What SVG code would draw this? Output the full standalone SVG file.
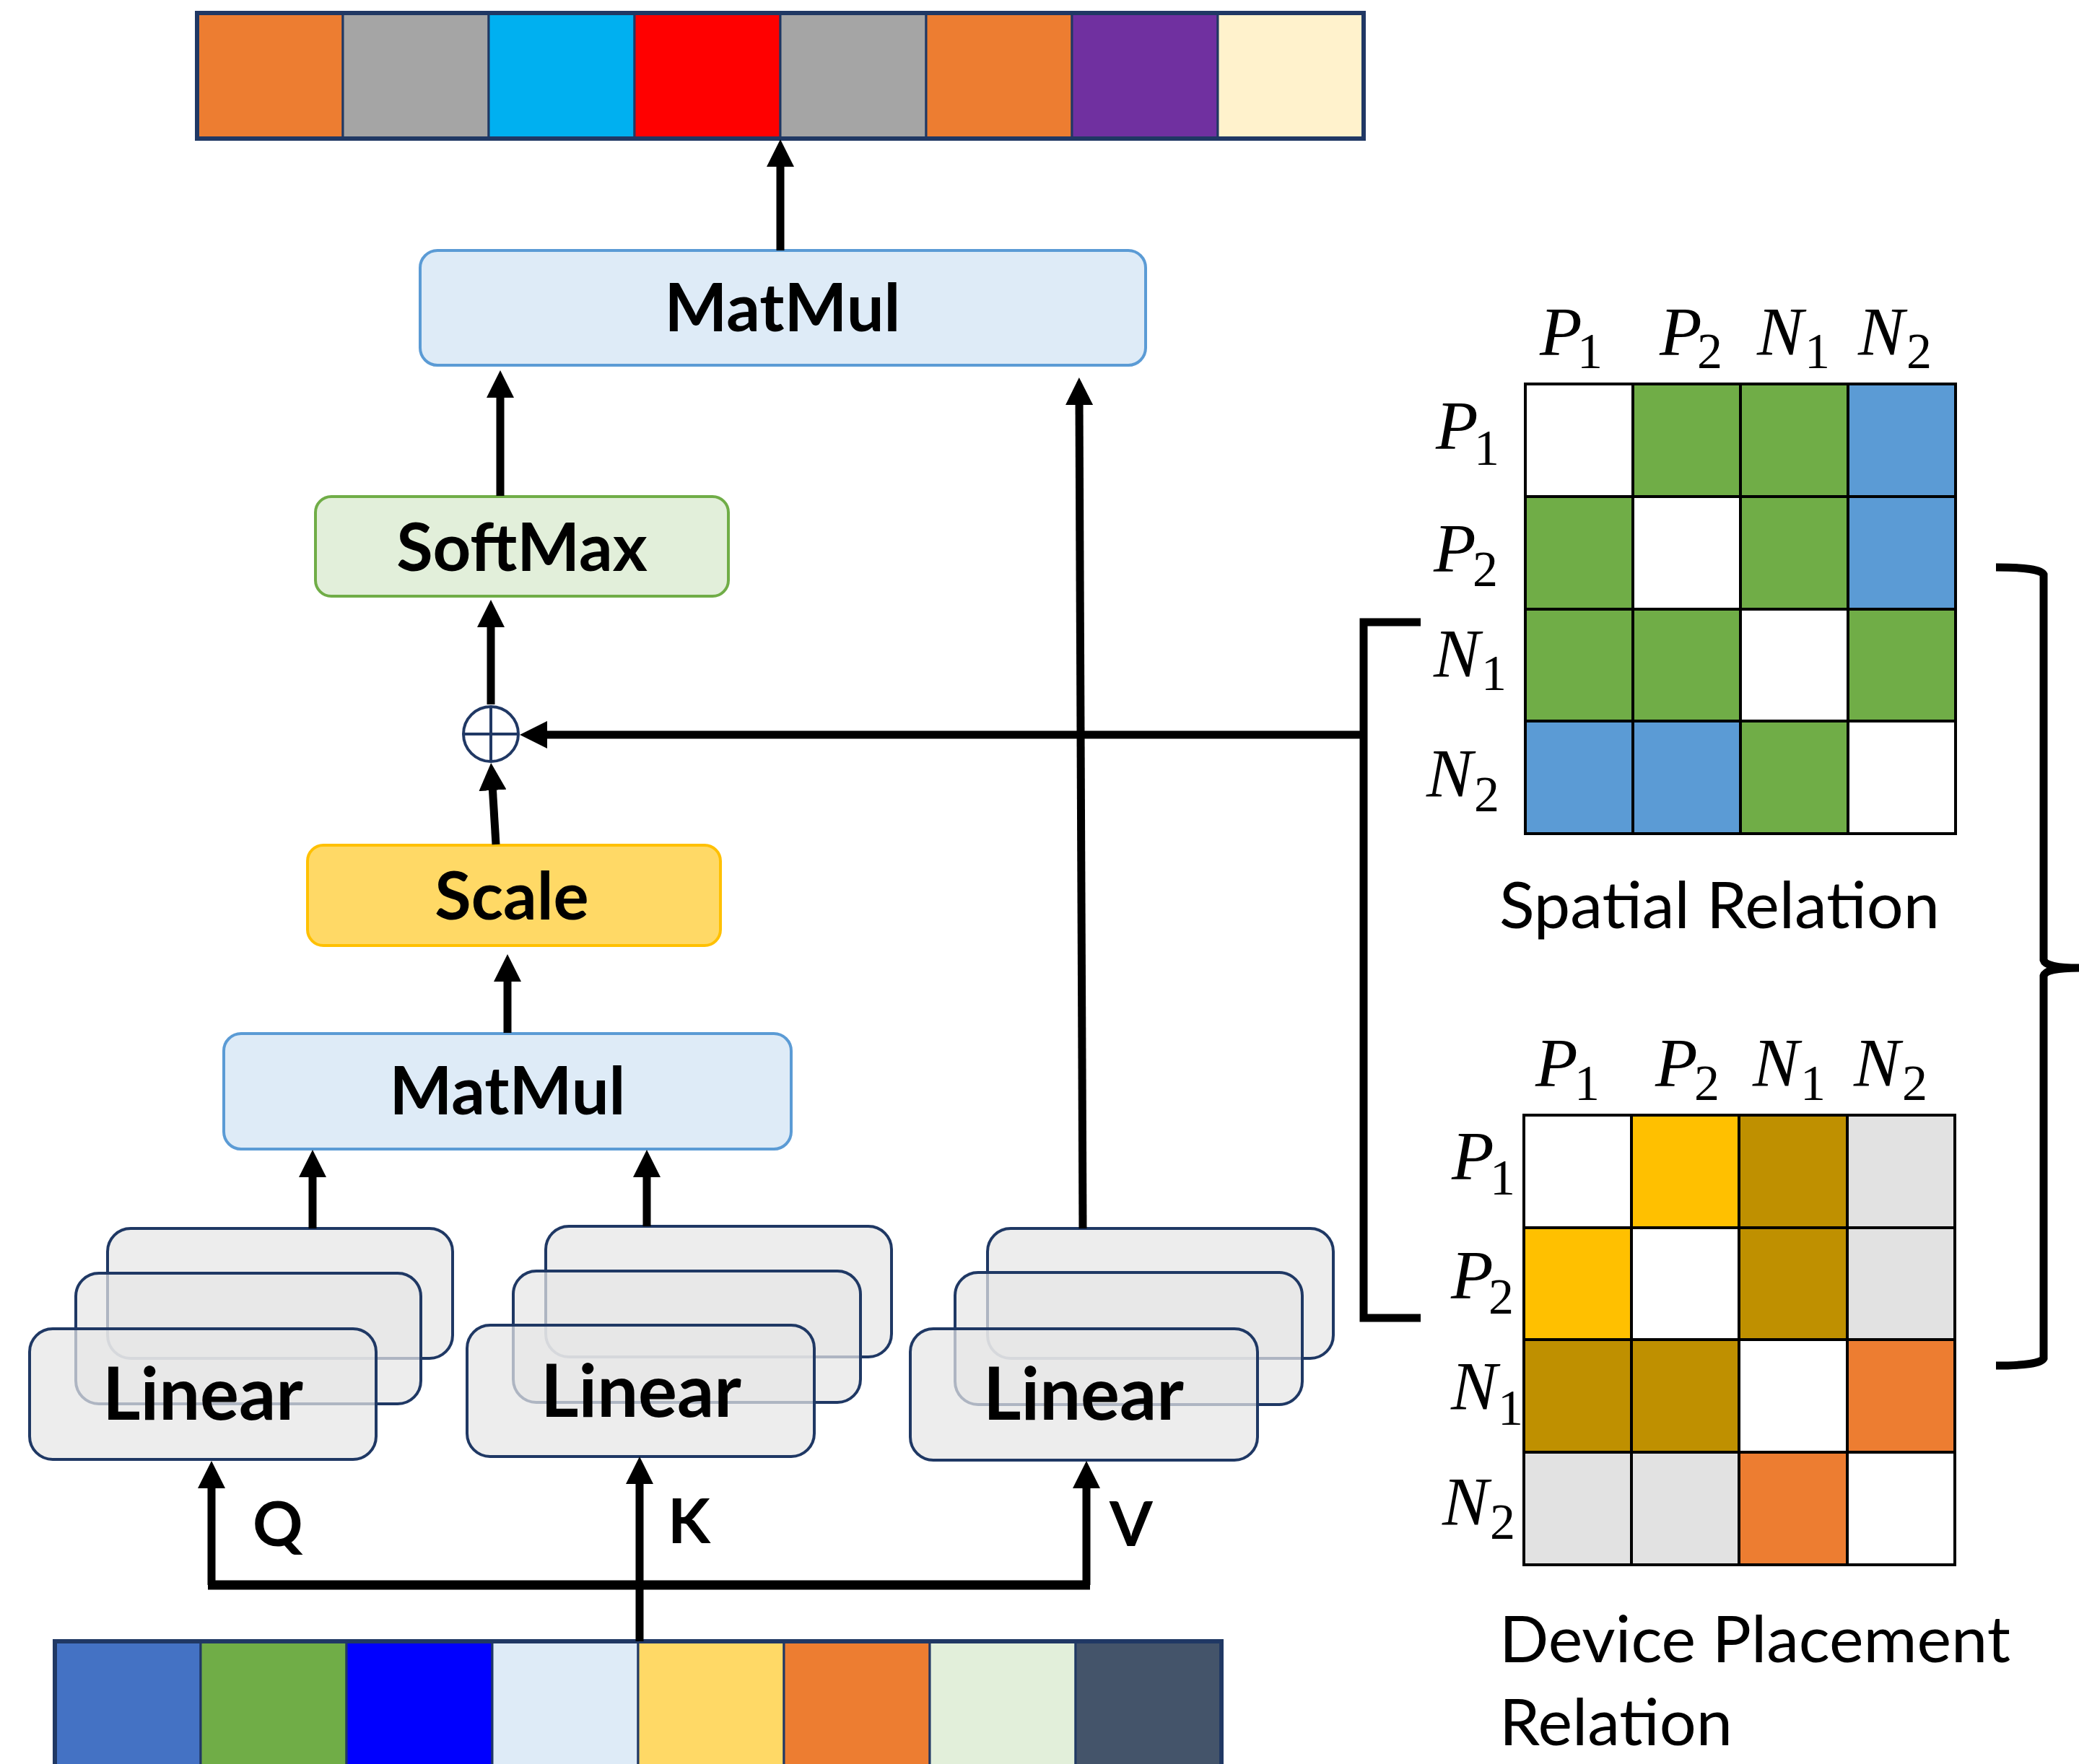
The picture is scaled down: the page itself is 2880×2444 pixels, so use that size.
<svg xmlns="http://www.w3.org/2000/svg" width="2880" height="2444" viewBox="0 0 2880 2444">
<defs>
<marker id="ah" markerUnits="userSpaceOnUse" markerWidth="38" markerHeight="38" refX="8" refY="19" orient="auto">
<path d="M0,0 L38,19 L0,38 z" fill="#000"/>
</marker>
<style>
.cell{stroke:#203864;stroke-width:3}
.bar{fill:none;stroke:#203864;stroke-width:6}
.lbl{font-family:Lato,"Liberation Sans",sans-serif;font-weight:bold;font-size:92px;fill:#000;text-anchor:middle}
.lin-t{font-size:101px}
.qkv{font-family:Lato,"Liberation Sans",sans-serif;font-weight:bold;font-size:86px;fill:#000}
.cap{font-family:Lato,"Liberation Sans",sans-serif;font-size:90px;fill:#000}
.m{font-family:"Liberation Serif",serif;font-style:italic;font-size:96px;fill:#000}
.sub{font-style:normal;font-size:70px}
.mm{fill:#DEEBF7;stroke:#5B9BD5;stroke-width:4}
.sm{fill:#E2EFDA;stroke:#70AD47;stroke-width:4}
.sc{fill:#FFD966;stroke:#FFC000;stroke-width:4}
.lin{fill:#E6E6E6;fill-opacity:0.72;stroke:#1F3864;stroke-width:4}
.g{stroke:#000;stroke-width:4}
.con{fill:none;stroke:#000;stroke-width:11;marker-end:url(#ah)}
.ln{fill:none;stroke:#000;stroke-width:11}
</style>
</defs>
<rect width="2880" height="2444" fill="#fff"/>

<g id="output-bar">
<rect class="cell" x="273" y="18" width="202" height="174" fill="#ED7D31"/>
<rect class="cell" x="475" y="18" width="202" height="174" fill="#A5A5A5"/>
<rect class="cell" x="677" y="18" width="202" height="174" fill="#00B0F0"/>
<rect class="cell" x="879" y="18" width="202" height="174" fill="#FF0000"/>
<rect class="cell" x="1081" y="18" width="202" height="174" fill="#A5A5A5"/>
<rect class="cell" x="1283" y="18" width="202" height="174" fill="#ED7D31"/>
<rect class="cell" x="1485" y="18" width="202" height="174" fill="#7030A0"/>
<rect class="cell" x="1687" y="18" width="202" height="174" fill="#FFF2CC"/>
<rect class="bar" x="273" y="18" width="1616" height="174"/>
</g>

<g id="input-bar">
<rect class="cell" x="76" y="2274" width="202" height="200" fill="#4472C4"/>
<rect class="cell" x="278" y="2274" width="202" height="200" fill="#70AD47"/>
<rect class="cell" x="480" y="2274" width="202" height="200" fill="#0000FF"/>
<rect class="cell" x="682" y="2274" width="202" height="200" fill="#DEEBF7"/>
<rect class="cell" x="884" y="2274" width="202" height="200" fill="#FFD966"/>
<rect class="cell" x="1086" y="2274" width="202" height="200" fill="#ED7D31"/>
<rect class="cell" x="1288" y="2274" width="202" height="200" fill="#E2EFDA"/>
<rect class="cell" x="1490" y="2274" width="202" height="200" fill="#44546A"/>
<rect class="bar" x="76" y="2274" width="1616" height="200"/>
</g>

<g id="matmul-top">
<rect class="mm" x="582" y="347" width="1005" height="159" rx="24"/>
<text class="lbl" x="1084" y="459">MatMul</text>
</g>
<g id="softmax">
<rect class="sm" x="437" y="688" width="572" height="138" rx="22"/>
<text class="lbl" x="723" y="791">SoftMax</text>
</g>
<g id="add">
<circle cx="680" cy="1017" r="38" fill="#fff" stroke="#203864" stroke-width="4"/>
<line x1="642" y1="1017" x2="718" y2="1017" stroke="#203864" stroke-width="4"/>
<line x1="680" y1="979" x2="680" y2="1055" stroke="#203864" stroke-width="4"/>
</g>
<g id="scale">
<rect class="sc" x="426" y="1171" width="572" height="139" rx="22"/>
<text class="lbl" x="709" y="1274">Scale</text>
</g>
<g id="matmul-bottom">
<rect class="mm" x="310" y="1432" width="786" height="160" rx="24"/>
<text class="lbl" x="703" y="1544">MatMul</text>
</g>

<g id="linear-q">
<rect class="lin" x="149" y="1702" width="478" height="180" rx="32"/>
<rect class="lin" x="105" y="1764" width="478" height="181" rx="32"/>
<rect class="lin" x="41" y="1841" width="480" height="181" rx="32"/>
<text class="lbl lin-t" x="281" y="1967">Linear</text>
</g>
<g id="linear-k">
<rect class="lin" x="756" y="1699" width="479" height="181" rx="32"/>
<rect class="lin" x="711" y="1761" width="481" height="182" rx="32"/>
<rect class="lin" x="647" y="1836" width="481" height="182" rx="32"/>
<text class="lbl lin-t" x="888" y="1963">Linear</text>
</g>
<g id="linear-v">
<rect class="lin" x="1368" y="1702" width="479" height="180" rx="32"/>
<rect class="lin" x="1323" y="1763" width="481" height="183" rx="32"/>
<rect class="lin" x="1261" y="1841" width="481" height="182" rx="32"/>
<text class="lbl lin-t" x="1501" y="1967">Linear</text>
</g>

<g id="qkv-labels">
<text class="qkv" x="350" y="2142">Q</text>
<text class="qkv" x="925" y="2138">K</text>
<text class="qkv" x="1537" y="2142">V</text>
</g>

<g id="connectors">
<path class="con" d="M1081,347 L1081,223"/>
<path class="con" d="M693,687 L693,543"/>
<path class="con" d="M1500,1702 L1495,553"/>
<path class="con" d="M680,976 L680,861"/>
<path class="con" d="M687,1170 L682,1087"/>
<path class="con" d="M703,1431 L703,1352"/>
<path class="con" d="M433,1702 L433,1623"/>
<path class="con" d="M896,1699 L896,1623"/>
<path class="con" d="M1889,1018 L750,1018"/>
<path class="ln" d="M288,2196 L1510,2196" style="stroke-width:13"/>
<path class="con" d="M293,2196 L293,2054"/>
<path class="con" d="M1505,2196 L1505,2054"/>
<path class="con" d="M886,2274 L886,2048"/>
<path class="ln" d="M1968,862 L1889,862 L1889,1826 L1968,1826"/>
<path class="ln" d="M2765,786 Q2826,786 2831,796 L2831,1330 Q2834,1341 2880,1341 M2880,1341 Q2834,1341 2831,1352 L2831,1882 Q2826,1892 2765,1892" style="stroke-width:11"/>
</g>

<g id="spatial-matrix">
<rect class="g" x="2113" y="532" width="149" height="156" fill="#fff"/>
<rect class="g" x="2262" y="532" width="149" height="156" fill="#70AD47"/>
<rect class="g" x="2411" y="532" width="149" height="156" fill="#70AD47"/>
<rect class="g" x="2560" y="532" width="149" height="156" fill="#5B9BD5"/>
<rect class="g" x="2113" y="688" width="149" height="156" fill="#70AD47"/>
<rect class="g" x="2262" y="688" width="149" height="156" fill="#fff"/>
<rect class="g" x="2411" y="688" width="149" height="156" fill="#70AD47"/>
<rect class="g" x="2560" y="688" width="149" height="156" fill="#5B9BD5"/>
<rect class="g" x="2113" y="844" width="149" height="155" fill="#70AD47"/>
<rect class="g" x="2262" y="844" width="149" height="155" fill="#70AD47"/>
<rect class="g" x="2411" y="844" width="149" height="155" fill="#fff"/>
<rect class="g" x="2560" y="844" width="149" height="155" fill="#70AD47"/>
<rect class="g" x="2113" y="999" width="149" height="156" fill="#5B9BD5"/>
<rect class="g" x="2262" y="999" width="149" height="156" fill="#5B9BD5"/>
<rect class="g" x="2411" y="999" width="149" height="156" fill="#70AD47"/>
<rect class="g" x="2560" y="999" width="149" height="156" fill="#fff"/>
<text class="m" x="2133" y="492">P<tspan class="sub" x="2185" y="510">1</tspan></text>
<text class="m" x="2299" y="492">P<tspan class="sub" x="2351" y="510">2</tspan></text>
<text class="m" x="2434" y="492">N<tspan class="sub" x="2500" y="510">1</tspan></text>
<text class="m" x="2574" y="492">N<tspan class="sub" x="2641" y="510">2</tspan></text>
<text class="m" x="1989" y="622">P<tspan class="sub" x="2042" y="644">1</tspan></text>
<text class="m" x="1986" y="792">P<tspan class="sub" x="2040" y="812">2</tspan></text>
<text class="m" x="1986" y="938">N<tspan class="sub" x="2052" y="956">1</tspan></text>
<text class="m" x="1976" y="1104">N<tspan class="sub" x="2042" y="1124">2</tspan></text>
<text class="cap" x="2077" y="1286">Spatial Relation</text>
</g>

<g id="device-matrix">
<rect class="g" x="2111" y="1545" width="149" height="156" fill="#fff"/>
<rect class="g" x="2260" y="1545" width="149" height="156" fill="#FFC000"/>
<rect class="g" x="2409" y="1545" width="150" height="156" fill="#BF9000"/>
<rect class="g" x="2559" y="1545" width="149" height="156" fill="#E2E2E2"/>
<rect class="g" x="2111" y="1701" width="149" height="155" fill="#FFC000"/>
<rect class="g" x="2260" y="1701" width="149" height="155" fill="#fff"/>
<rect class="g" x="2409" y="1701" width="150" height="155" fill="#BF9000"/>
<rect class="g" x="2559" y="1701" width="149" height="155" fill="#E2E2E2"/>
<rect class="g" x="2111" y="1856" width="149" height="156" fill="#BF9000"/>
<rect class="g" x="2260" y="1856" width="149" height="156" fill="#BF9000"/>
<rect class="g" x="2409" y="1856" width="150" height="156" fill="#fff"/>
<rect class="g" x="2559" y="1856" width="149" height="156" fill="#ED7D31"/>
<rect class="g" x="2111" y="2012" width="149" height="156" fill="#E2E2E2"/>
<rect class="g" x="2260" y="2012" width="149" height="156" fill="#E2E2E2"/>
<rect class="g" x="2409" y="2012" width="150" height="156" fill="#ED7D31"/>
<rect class="g" x="2559" y="2012" width="149" height="156" fill="#fff"/>
<text class="m" x="2127" y="1505">P<tspan class="sub" x="2181" y="1524">1</tspan></text>
<text class="m" x="2293" y="1505">P<tspan class="sub" x="2347" y="1524">2</tspan></text>
<text class="m" x="2428" y="1505">N<tspan class="sub" x="2494" y="1524">1</tspan></text>
<text class="m" x="2568" y="1505">N<tspan class="sub" x="2635" y="1524">2</tspan></text>
<text class="m" x="2011" y="1634">P<tspan class="sub" x="2064" y="1655">1</tspan></text>
<text class="m" x="2010" y="1799">P<tspan class="sub" x="2062" y="1820">2</tspan></text>
<text class="m" x="2010" y="1953">N<tspan class="sub" x="2075" y="1974">1</tspan></text>
<text class="m" x="1998" y="2113">N<tspan class="sub" x="2064" y="2132">2</tspan></text>
<text class="cap" x="2077" y="2303">Device Placement</text>
<text class="cap" x="2077" y="2418">Relation</text>
</g>
</svg>
